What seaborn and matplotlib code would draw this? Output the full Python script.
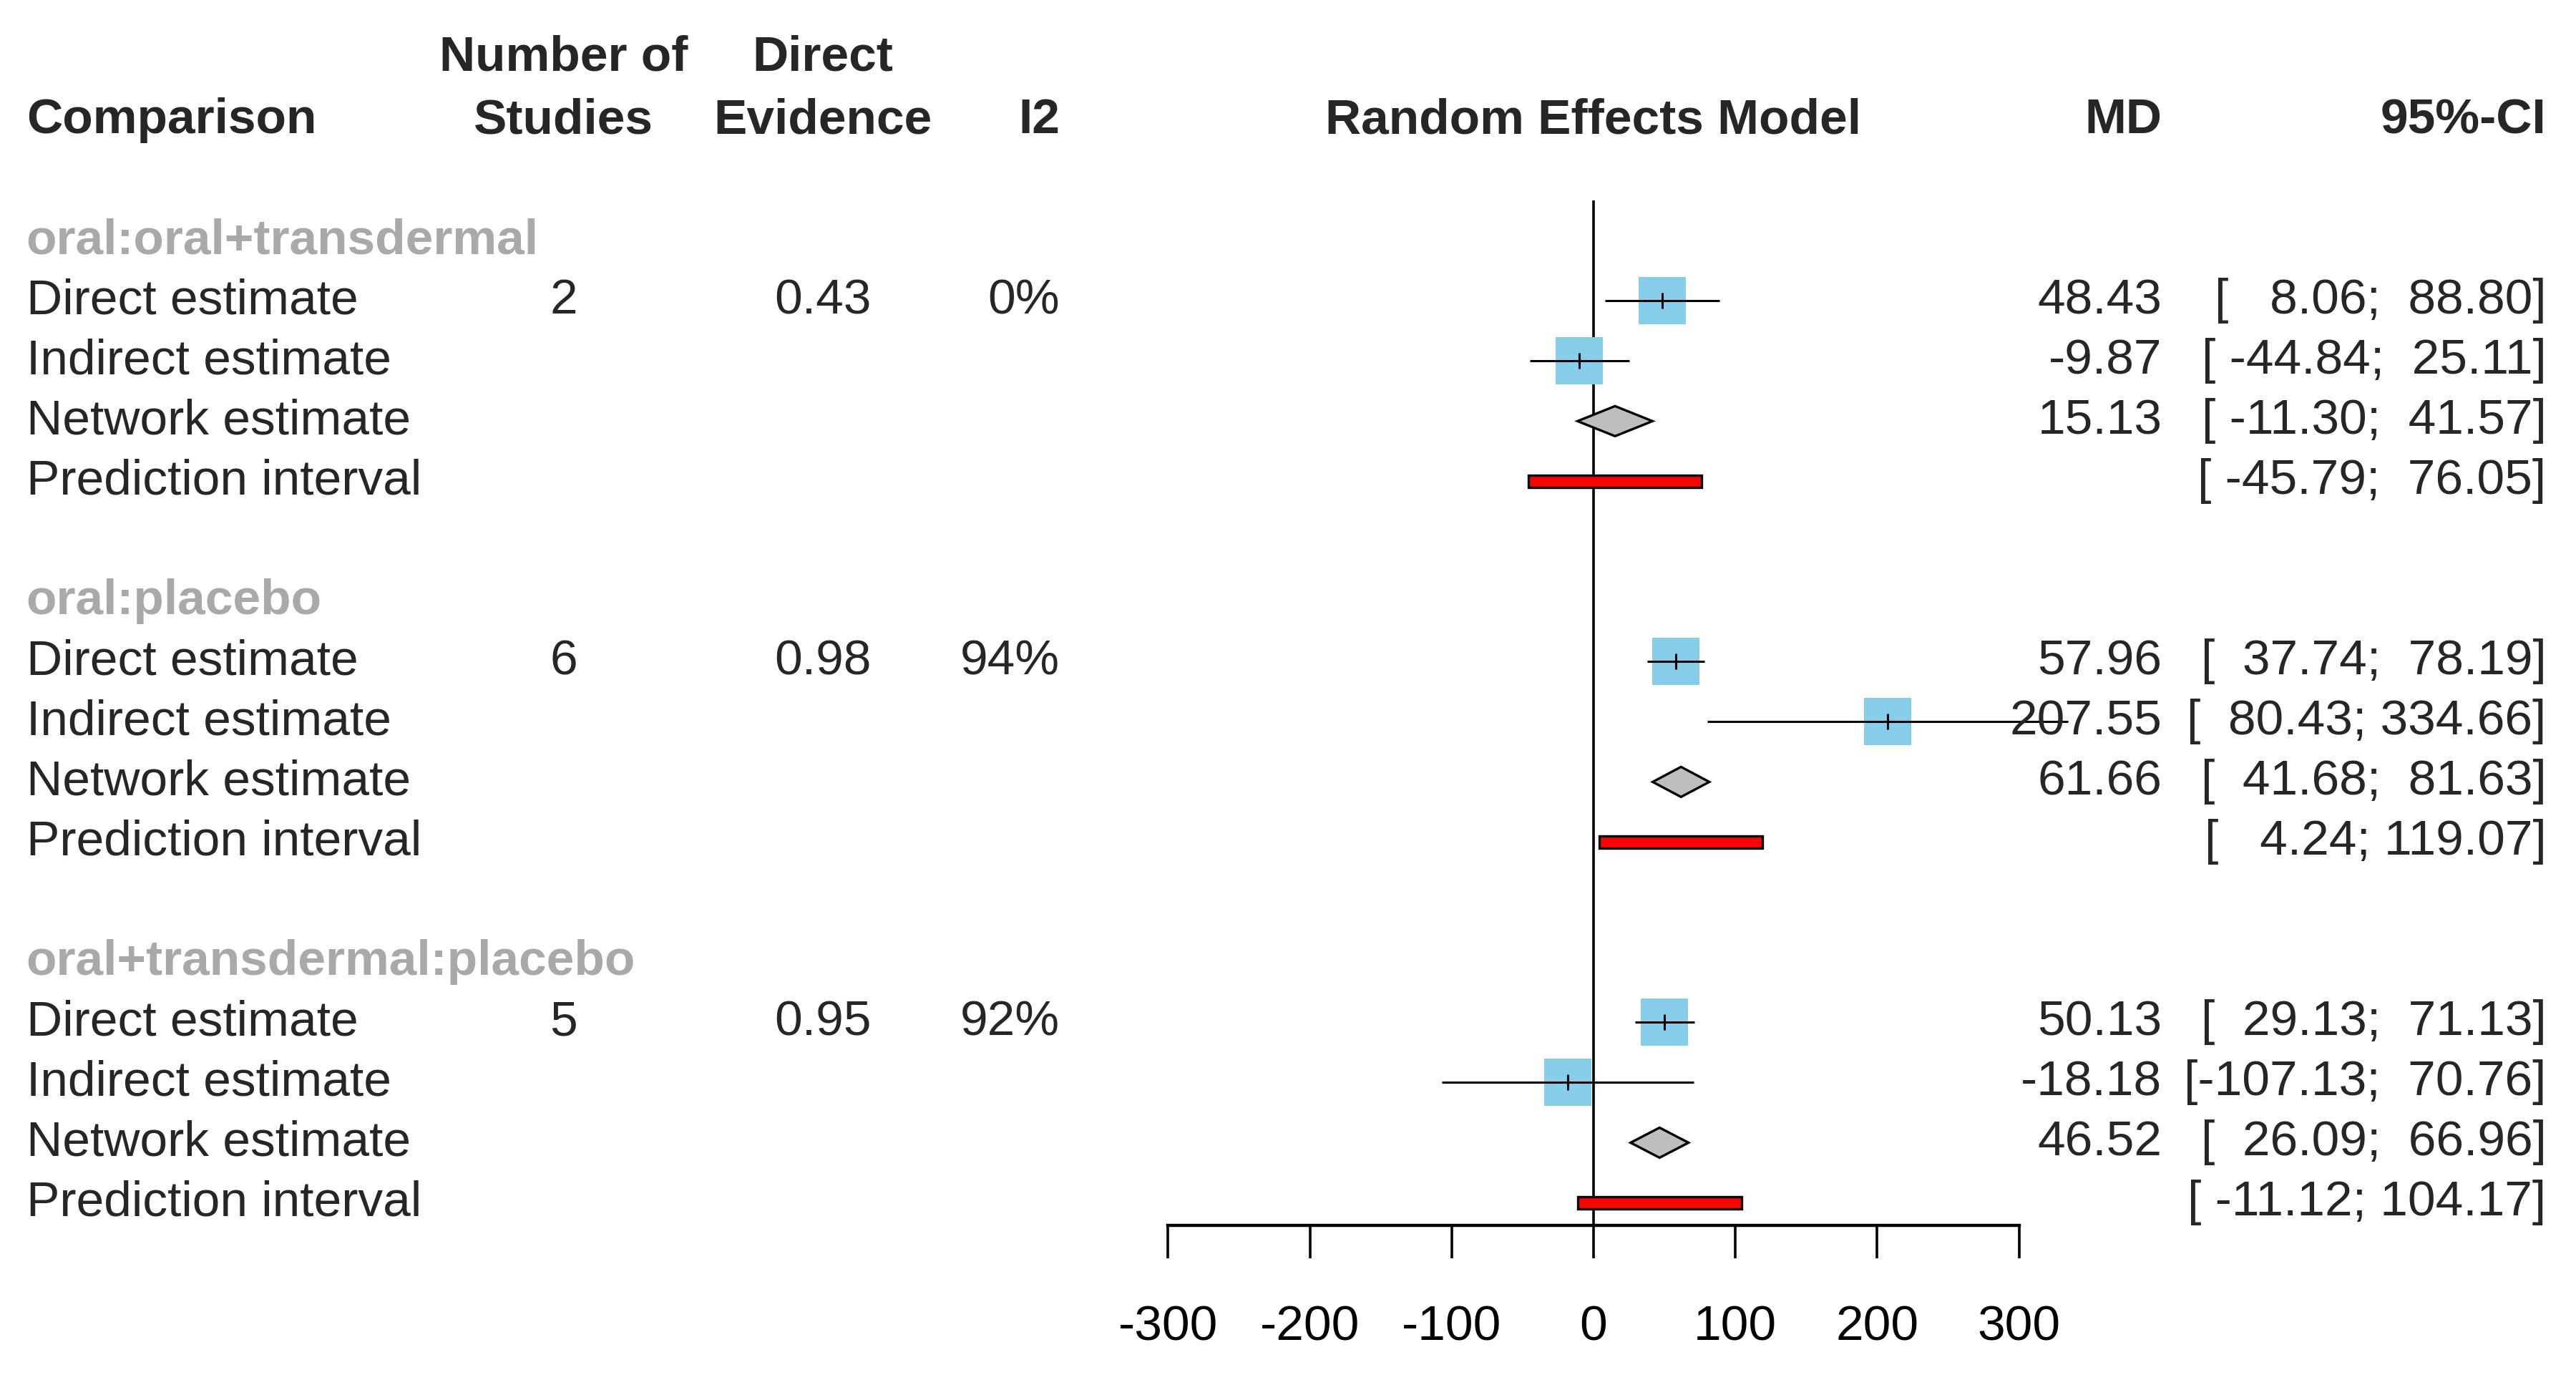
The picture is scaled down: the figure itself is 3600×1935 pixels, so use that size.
import numpy as np
import pandas as pd
import matplotlib
matplotlib.use('Agg')
import matplotlib.pyplot as plt
import seaborn as sns
from matplotlib.transforms import blended_transform_factory

sns.set_style('white')
plt.rcParams['font.family'] = ['Liberation Sans', 'DejaVu Sans']
plt.rcParams['axes.unicode_minus'] = False

# data
groups = ['oral:oral+transdermal', 'oral:placebo', 'oral+transdermal:placebo']
n_studies = ['2', '6', '5']
direct_evidence = ['0.43', '0.98', '0.95']
i2 = ['0%', '94%', '92%']

direct_md = [48.43, 57.96, 50.13]
direct_lo = [8.06, 37.74, 29.13]
direct_hi = [88.80, 78.19, 71.13]
indirect_md = [-9.87, 207.55, -18.18]
indirect_lo = [-44.84, 80.43, -107.13]
indirect_hi = [25.11, 334.66, 70.76]
network_md = [15.13, 61.66, 46.52]
network_lo = [-11.30, 41.68, 26.09]
network_hi = [41.57, 81.63, 66.96]
pred_lo = [-45.79, 4.24, -11.12]
pred_hi = [76.05, 119.07, 104.17]

row_labels = ['Direct estimate', 'Indirect estimate', 'Network estimate', 'Prediction interval']
x_ticks = [-300, -200, -100, 0, 100, 200, 300]

FS = 25
GREY = '#a9a9a9'

fig = plt.figure(figsize=(18, 9.675), dpi=200)
ax = fig.add_axes([0, 0, 1, 1])
ax.set_xlim(-1123.6, 692.7)
ax.set_ylim(19.10, -3.934)
tr = blended_transform_factory(ax.transAxes, ax.transData)

g_rows = np.arange(len(groups)) * 6 + 0.07

# squares for direct / indirect estimates
sq = pd.DataFrame({
    'md': direct_md + indirect_md,
    'lo': direct_lo + indirect_lo,
    'hi': direct_hi + indirect_hi,
    'row': list(g_rows + 1) + list(g_rows + 2),
})
ax.vlines(0, -0.6, 16.45, color='black', lw=1.3, zorder=1)
sns.scatterplot(data=sq, x='md', y='row', marker='s', s=570, color='#87CEEB',
                linewidth=0, ax=ax, zorder=2, legend=False)
ax.hlines(sq['row'], sq['lo'], sq['hi'], color='black', lw=1.1, zorder=3)
ax.plot(sq['md'], sq['row'], '|', color='black', ms=8, mew=1.1, zorder=4)

# network diamonds
for g, r in enumerate(g_rows + 3):
    ax.fill([network_lo[g], network_md[g], network_hi[g], network_md[g]],
            [r, r - 0.25, r, r + 0.25],
            facecolor='#BEBEBE', edgecolor='black', lw=1.2, zorder=3)

# prediction intervals
ax.barh(g_rows + 4, np.array(pred_hi) - np.array(pred_lo), left=pred_lo,
        height=0.2, color='red', edgecolor='black', lw=1.2, zorder=3)

# x axis
for s in ['left', 'top', 'right']:
    ax.spines[s].set_visible(False)
ax.spines['bottom'].set_position(('data', 16.45))
ax.spines['bottom'].set_bounds(-300, 300)
ax.spines['bottom'].set_linewidth(1.6)
ax.spines['bottom'].set_color('black')
ax.set_xticks(x_ticks)
ax.set_xticklabels([str(t) for t in x_ticks])
ax.set_yticks([])
ax.set_xlabel('')
ax.set_ylabel('')
ax.tick_params(axis='x', bottom=True, direction='out', length=16.6, width=1.3,
               pad=23, labelsize=FS, colors='black')

# header
hdr = dict(fontsize=FS, fontweight='bold', transform=tr, va='center')
ax.text(0.2188, -2.97, 'Number of', ha='center', **hdr)
ax.text(0.3195, -2.97, 'Direct', ha='center', **hdr)
ax.text(0.0102, -1.93, 'Comparison', ha='left', **hdr)
ax.text(0.2188, -1.93, 'Studies', ha='center', **hdr)
ax.text(0.3195, -1.93, 'Evidence', ha='center', **hdr)
ax.text(0.4114, -1.93, 'I2', ha='right', **hdr)
ax.text(0.6186, -1.93, 'Random Effects Model', ha='center', **hdr)
ax.text(0.8393, -1.93, 'MD', ha='right', **hdr)
ax.text(0.9885, -1.93, '95%-CI', ha='right', **hdr)


def fmt_ci(lo, hi):
    return '[' + f'{lo:7.2f}' + '; ' + f'{hi:6.2f}' + ']'


txt = dict(fontsize=FS, transform=tr, va='center')
for g, r0 in enumerate(g_rows):
    ax.text(0.0102, r0, groups[g], ha='left', color=GREY, fontweight='bold', **txt)
    for k, lab in enumerate(row_labels):
        ax.text(0.0102, r0 + 1 + k, lab, ha='left', **txt)
    ax.text(0.2188, r0 + 1, n_studies[g], ha='center', **txt)
    ax.text(0.3195, r0 + 1, direct_evidence[g], ha='center', **txt)
    ax.text(0.4114, r0 + 1, i2[g], ha='right', **txt)
    mds = [direct_md[g], indirect_md[g], network_md[g]]
    los = [direct_lo[g], indirect_lo[g], network_lo[g], pred_lo[g]]
    his = [direct_hi[g], indirect_hi[g], network_hi[g], pred_hi[g]]
    for k in range(4):
        if k < 3:
            ax.text(0.8393, r0 + 1 + k, f'{mds[k]:.2f}', ha='right', **txt)
        ax.text(0.9885, r0 + 1 + k, fmt_ci(los[k], his[k]), ha='right', **txt)

fig.savefig('out.png', dpi=200)
